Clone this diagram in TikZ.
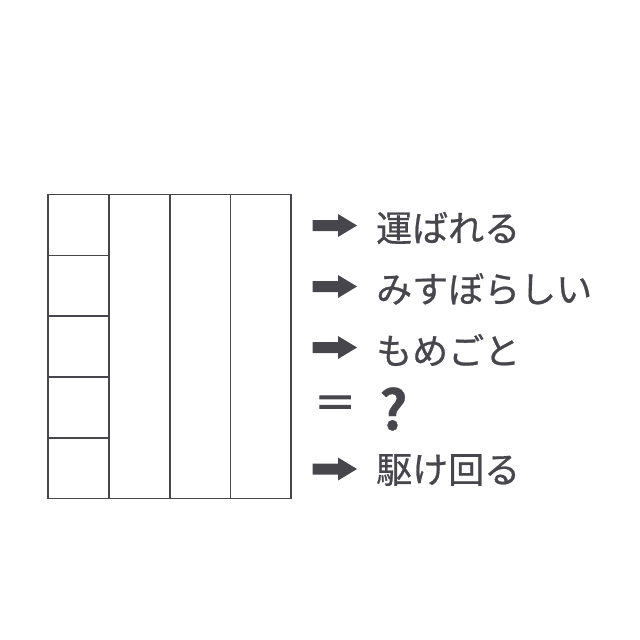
\documentclass[tikz,border=0pt]{standalone}
\usepackage{fontspec}
\newfontfamily\jp[FakeBold=0.7]{Noto Sans CJK JP}
\newfontfamily\jpb[FakeBold=0.6]{Noto Sans CJK JP Bold}
\newfontfamily\jpeq[FakeBold=2.5]{Noto Sans CJK JP}
\definecolor{ink}{RGB}{70,70,76}
\begin{document}
\begin{tikzpicture}[x=1pt,y=-1pt,
  gridline/.style={draw=ink,line width=1.6pt},
  lbl/.style={anchor=west,inner sep=0pt,text=ink,font=\jp\fontsize{36}{40}\selectfont},
  arrowshape/.style={fill=ink,draw=none}]
\useasboundingbox (0,0) rectangle (640,640);
% grid
\draw[gridline] (48,194.5) rectangle (291,498.5);
\foreach \x in {109,170,230.5} \draw[gridline] (\x,194.5) -- (\x,498.5);
\foreach \y in {255.5,316,377,438} \draw[gridline] (48,\y) -- (109,\y);
% arrows
\foreach \n/\y in {a/225.5,b/286.5,c/347.5,e/469} {
  \fill[arrowshape] (312.5,\y-5.5) -- (338,\y-5.5) -- (338,\y-11.5) -- (357,\y) -- (338,\y+11.5) -- (338,\y+5.5) -- (312.5,\y+5.5) -- cycle;
}
% labels
\node[lbl] (t1) at (376,228) {運ばれる};
\node[lbl] (t2) at (376,289) {みすぼらしい};
\node[lbl] (t3) at (376,350) {もめごと};
\node[lbl,font=\jpeq\fontsize{42}{46}\selectfont] (eq) at (314,407) {＝};
\node[lbl,font=\jpb\fontsize{55}{60}\selectfont] (q) at (379,409) {?};
\node[lbl] (t5) at (376,470) {駆け回る};
\end{tikzpicture}
\end{document}
